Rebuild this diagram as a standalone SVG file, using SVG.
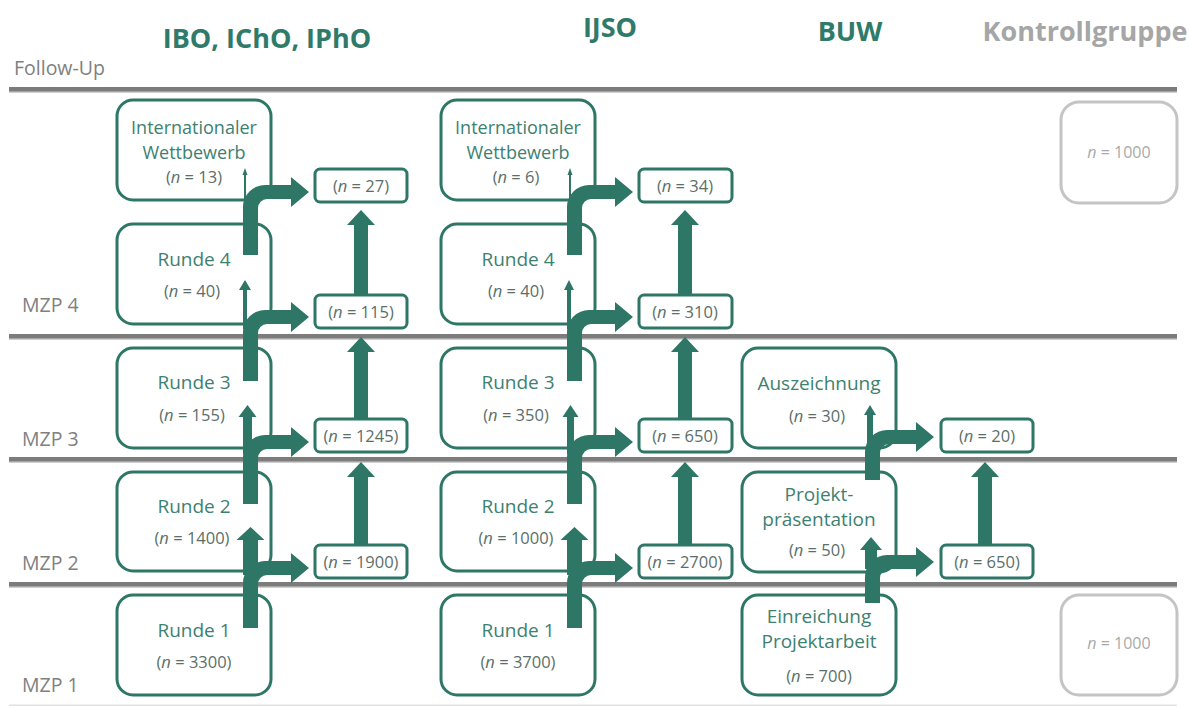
<svg xmlns="http://www.w3.org/2000/svg" width="1189" height="707" viewBox="0 0 1189 707">
<style>
.bg{fill:#ffffff}
.box{fill:#ffffff;stroke:#2e7666;stroke-width:3}
.kbox{fill:#ffffff;stroke:#c4c4c4;stroke-width:3}
.arr{fill:#2e7666}
.rule{fill:#7c7c7c}
.shadow{fill:#cfcfcf}
.t{font-family:"Open Sans","Liberation Sans",sans-serif;font-size:19px;fill:#3d8171;text-anchor:middle}
.ts{font-size:18px}
.n{font-family:"Open Sans","Liberation Sans",sans-serif;font-size:16.5px;fill:#5b6f6a;text-anchor:middle}
.kn{font-family:"Open Sans","Liberation Sans",sans-serif;font-size:16px;fill:#a9a9a9;text-anchor:middle}
.hd{font-family:"Open Sans","Liberation Sans",sans-serif;font-size:27px;font-weight:bold;fill:#2f7a69;text-anchor:middle}
.hdk{fill:#a6a6a6}
.lbl{font-family:"Open Sans","Liberation Sans",sans-serif;font-size:19.5px;fill:#808080}
.i{font-style:italic}
</style>
<rect class="bg" x="0" y="0" width="1189" height="707"/>

<g id="headers">
<text class="hd" x="267" y="48">IBO, IChO, IPhO</text>
<text class="hd" x="610" y="37">IJSO</text>
<text class="hd" x="850" y="41">BUW</text>
<text class="hd hdk" x="1085" y="41">Kontrollgruppe</text>
</g>

<g id="timeline">
<rect class="shadow" x="9" y="91" width="1168" height="2"/>
<rect class="rule" x="9" y="87" width="1168" height="4.5"/>
<rect class="shadow" x="9" y="338" width="1168" height="2"/>
<rect class="rule" x="9" y="334" width="1168" height="4.5"/>
<rect class="shadow" x="9" y="461" width="1168" height="2"/>
<rect class="rule" x="9" y="457" width="1168" height="4.5"/>
<rect class="shadow" x="9" y="586" width="1168" height="2"/>
<rect class="rule" x="9" y="582" width="1168" height="4.5"/>
<rect x="9" y="704.5" width="1168" height="1.5" fill="#e2e2e2"/>
<text class="lbl" x="14" y="75">Follow-Up</text>
<text class="lbl" x="22" y="312">MZP 4</text>
<text class="lbl" x="22" y="446">MZP 3</text>
<text class="lbl" x="22" y="570">MZP 2</text>
<text class="lbl" x="22" y="692">MZP 1</text>
</g>

<g id="ibo-intl"><rect class="box" x="117" y="100" width="154" height="100" rx="16"/>
<text class="t ts" x="194" y="134">Internationaler</text><text class="t ts" x="194" y="159">Wettbewerb</text>
<text class="n" x="194" y="183">(<tspan class="i">n</tspan> = 13)</text></g>
<g id="ibo-r4"><rect class="box" x="117" y="224" width="154" height="100" rx="16"/>
<text class="t" x="194" y="266">Runde 4</text><text class="n" x="192" y="297">(<tspan class="i">n</tspan> = 40)</text></g>
<g id="ibo-r3"><rect class="box" x="117" y="348" width="154" height="100" rx="16"/>
<text class="t" x="194" y="389">Runde 3</text><text class="n" x="192" y="421">(<tspan class="i">n</tspan> = 155)</text></g>
<g id="ibo-r2"><rect class="box" x="117" y="472" width="154" height="99" rx="16"/>
<text class="t" x="194" y="513">Runde 2</text><text class="n" x="192" y="544">(<tspan class="i">n</tspan> = 1400)</text></g>
<g id="ibo-r1"><rect class="box" x="117" y="595" width="154" height="100" rx="16"/>
<text class="t" x="194" y="637">Runde 1</text><text class="n" x="194" y="668">(<tspan class="i">n</tspan> = 3300)</text></g>

<g id="ibo-s27"><rect class="box" x="315" y="169" width="92" height="33" rx="5"/><text class="n" x="361" y="192">(<tspan class="i">n</tspan> = 27)</text></g>
<g id="ibo-s115"><rect class="box" x="315" y="295" width="92" height="33" rx="5"/><text class="n" x="361" y="318">(<tspan class="i">n</tspan> = 115)</text></g>
<g id="ibo-s1245"><rect class="box" x="315" y="419" width="92" height="33" rx="5"/><text class="n" x="361" y="442">(<tspan class="i">n</tspan> = 1245)</text></g>
<g id="ibo-s1900"><rect class="box" x="315" y="545" width="92" height="33" rx="5"/><text class="n" x="361" y="568">(<tspan class="i">n</tspan> = 1900)</text></g>

<g id="ijso-intl"><rect class="box" x="441" y="100" width="154" height="100" rx="16"/>
<text class="t ts" x="518" y="134">Internationaler</text><text class="t ts" x="518" y="159">Wettbewerb</text>
<text class="n" x="516" y="183">(<tspan class="i">n</tspan> = 6)</text></g>
<g id="ijso-r4"><rect class="box" x="441" y="224" width="154" height="100" rx="16"/>
<text class="t" x="518" y="266">Runde 4</text><text class="n" x="516" y="297">(<tspan class="i">n</tspan> = 40)</text></g>
<g id="ijso-r3"><rect class="box" x="441" y="348" width="154" height="100" rx="16"/>
<text class="t" x="518" y="389">Runde 3</text><text class="n" x="516" y="421">(<tspan class="i">n</tspan> = 350)</text></g>
<g id="ijso-r2"><rect class="box" x="441" y="472" width="154" height="99" rx="16"/>
<text class="t" x="518" y="513">Runde 2</text><text class="n" x="516" y="544">(<tspan class="i">n</tspan> = 1000)</text></g>
<g id="ijso-r1"><rect class="box" x="441" y="595" width="154" height="100" rx="16"/>
<text class="t" x="518" y="637">Runde 1</text><text class="n" x="518" y="668">(<tspan class="i">n</tspan> = 3700)</text></g>

<g id="ijso-s34"><rect class="box" x="639" y="169" width="93" height="33" rx="5"/><text class="n" x="685" y="192">(<tspan class="i">n</tspan> = 34)</text></g>
<g id="ijso-s310"><rect class="box" x="639" y="295" width="93" height="33" rx="5"/><text class="n" x="685" y="318">(<tspan class="i">n</tspan> = 310)</text></g>
<g id="ijso-s650"><rect class="box" x="639" y="419" width="93" height="33" rx="5"/><text class="n" x="685" y="442">(<tspan class="i">n</tspan> = 650)</text></g>
<g id="ijso-s2700"><rect class="box" x="639" y="545" width="93" height="33" rx="5"/><text class="n" x="685" y="568">(<tspan class="i">n</tspan> = 2700)</text></g>

<g id="buw-ausz"><rect class="box" x="742" y="348" width="154" height="100" rx="16"/>
<text class="t" x="819" y="390">Auszeichnung</text><text class="n" x="817" y="422">(<tspan class="i">n</tspan> = 30)</text></g>
<g id="buw-praes"><rect class="box" x="742" y="472" width="154" height="100" rx="16"/>
<text class="t" x="819" y="501">Projekt-</text><text class="t" x="819" y="526">präsentation</text>
<text class="n" x="817" y="556">(<tspan class="i">n</tspan> = 50)</text></g>
<g id="buw-einr"><rect class="box" x="742" y="595" width="154" height="100" rx="16"/>
<text class="t" x="819" y="623">Einreichung</text><text class="t" x="819" y="648">Projektarbeit</text>
<text class="n" x="819" y="682">(<tspan class="i">n</tspan> = 700)</text></g>

<g id="buw-s20"><rect class="box" x="941" y="419" width="92" height="33" rx="5"/><text class="n" x="987" y="442">(<tspan class="i">n</tspan> = 20)</text></g>
<g id="buw-s650"><rect class="box" x="941" y="545" width="92" height="33" rx="5"/><text class="n" x="987" y="568">(<tspan class="i">n</tspan> = 650)</text></g>

<g id="kg-follow"><rect class="kbox" x="1061" y="102" width="116" height="101" rx="18"/><text class="kn" x="1119" y="158"><tspan class="i">n</tspan> = 1000</text></g>
<g id="kg-mzp1"><rect class="kbox" x="1061" y="595" width="116" height="100" rx="18"/><text class="kn" x="1119" y="649"><tspan class="i">n</tspan> = 1000</text></g>

<g id="connectors">
<!-- IBO -->
<path class="arr" d="M243,575 L243,540 L236.5,540 L250.5,527 L264.5,540 L258,540 L258,575 Z"/>
<path class="arr" d="M243,628 L243,583 A22,22 0 0 1 265,561 L291,561 L291,553 L309,568 L291,583 L291,575 L267,575 A9,9 0 0 0 258,584 L258,628 Z"/>
<path class="arr" d="M243,454 L243,417 L238.5,417 L247.5,405 L256.5,417 L252,417 L252,454 Z"/>
<path class="arr" d="M243,504 L243,457 A22,22 0 0 1 265,435 L291,435 L291,427 L309,442 L291,457 L291,449 L267,449 A9,9 0 0 0 258,458 L258,504 Z"/>
<path class="arr" d="M243,329 L243,290 L239,290 L245,280 L251,290 L247,290 L247,329 Z"/>
<path class="arr" d="M243,381 L243,332 A22,22 0 0 1 265,310 L291,310 L291,302 L309,317 L291,332 L291,324 L267,324 A9,9 0 0 0 258,333 L258,381 Z"/>
<path class="arr" d="M244,204 L244,175 L242.5,175 L245,168 L247.5,175 L246,175 L246,204 Z"/>
<path class="arr" d="M243,255 L243,207 A22,22 0 0 1 265,185 L291,185 L291,177 L309,192 L291,207 L291,199 L267,199 A9,9 0 0 0 258,208 L258,255 Z"/>
<path class="arr" d="M354,545 L354,477 L347,477 L361,462 L375,477 L368,477 L368,545 Z"/>
<path class="arr" d="M354,419 L354,352 L347,352 L361,337 L375,352 L368,352 L368,419 Z"/>
<path class="arr" d="M354,295 L354,225 L347,225 L361,210 L375,225 L368,225 L368,295 Z"/>
<!-- IJSO -->
<path class="arr" d="M567,575 L567,540 L560.5,540 L574.5,527 L588.5,540 L582,540 L582,575 Z"/>
<path class="arr" d="M567,628 L567,583 A22,22 0 0 1 589,561 L615,561 L615,553 L633,568 L615,583 L615,575 L591,575 A9,9 0 0 0 582,584 L582,628 Z"/>
<path class="arr" d="M567,454 L567,417 L562.5,417 L570.5,405 L578.5,417 L574,417 L574,454 Z"/>
<path class="arr" d="M567,504 L567,457 A22,22 0 0 1 589,435 L615,435 L615,427 L633,442 L615,457 L615,449 L591,449 A9,9 0 0 0 582,458 L582,504 Z"/>
<path class="arr" d="M567,329 L567,290 L564,290 L569,280 L574,290 L571,290 L571,329 Z"/>
<path class="arr" d="M567,381 L567,332 A22,22 0 0 1 589,310 L615,310 L615,302 L633,317 L615,332 L615,324 L591,324 A9,9 0 0 0 582,333 L582,381 Z"/>
<path class="arr" d="M569,204 L569,175 L567.5,175 L570,168 L572.5,175 L571,175 L571,204 Z"/>
<path class="arr" d="M567,255 L567,207 A22,22 0 0 1 589,185 L615,185 L615,177 L633,192 L615,207 L615,199 L591,199 A9,9 0 0 0 582,208 L582,255 Z"/>
<path class="arr" d="M678,545 L678,477 L671,477 L685,462 L699,477 L692,477 L692,545 Z"/>
<path class="arr" d="M678,419 L678,352 L671,352 L685,337 L699,352 L692,352 L692,419 Z"/>
<path class="arr" d="M678,295 L678,225 L671,225 L685,210 L699,225 L692,225 L692,295 Z"/>
<!-- BUW -->
<path class="arr" d="M865,569 L865,550 L860,550 L871,537 L882,550 L877,550 L877,569 Z"/>
<path class="arr" d="M865,603 L865,577 A22,22 0 0 1 887,555 L916,555 L916,547 L934,562 L916,577 L916,569 L889,569 A9,9 0 0 0 880,578 L880,603 Z"/>
<path class="arr" d="M867,449 L867,415 L864,415 L870,405 L876,415 L873,415 L873,449 Z"/>
<path class="arr" d="M865,480 L865,452 A22,22 0 0 1 887,430 L916,430 L916,422 L934,437 L916,452 L916,444 L889,444 A9,9 0 0 0 880,453 L880,480 Z"/>
<path class="arr" d="M978,545 L978,477 L971,477 L985,462 L999,477 L992,477 L992,545 Z"/>
</g>
</svg>
